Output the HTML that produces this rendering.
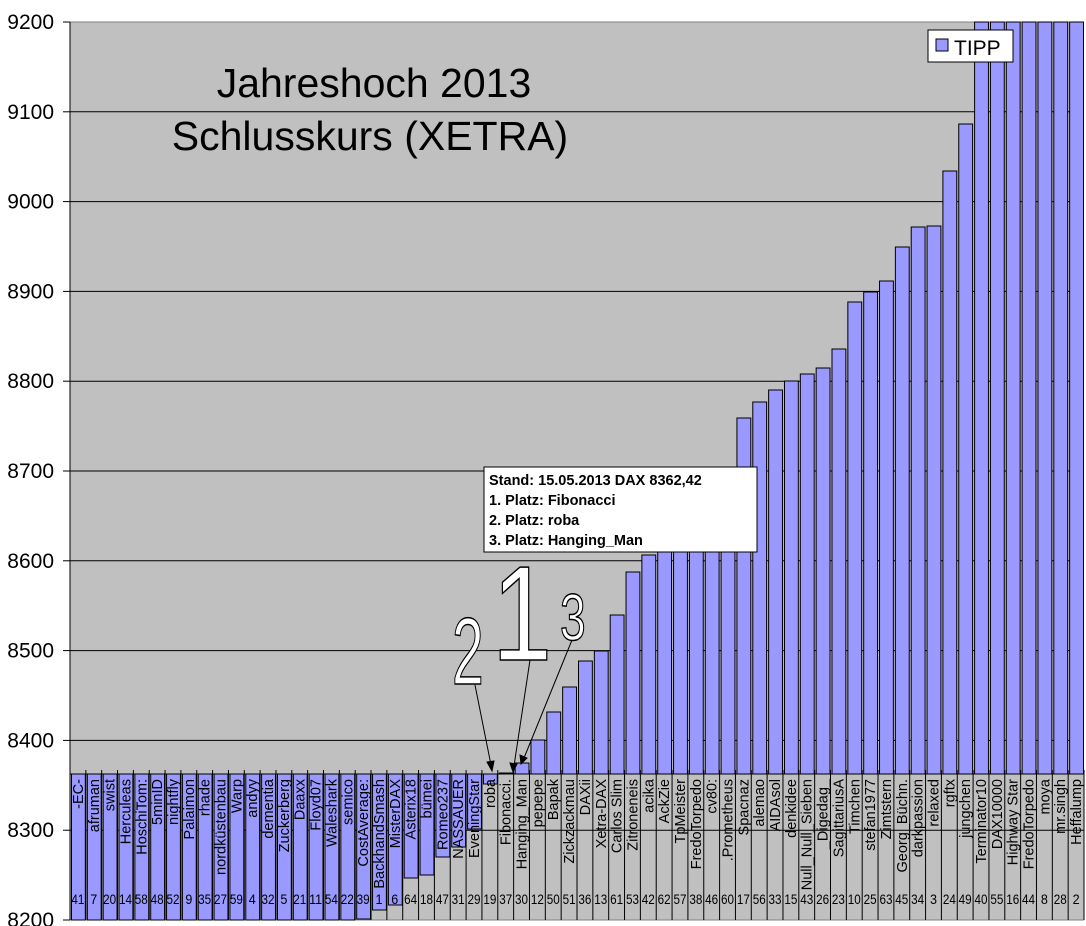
<!DOCTYPE html>
<html><head><meta charset="utf-8"><style>
html,body{margin:0;padding:0;background:#fff;}
svg{display:block;font-family:"Liberation Sans",Arial,sans-serif;}
</style></head><body>
<svg id="c" width="1086" height="926" viewBox="0 0 1086 926" xmlns="http://www.w3.org/2000/svg">
<rect x="70" y="22" width="1014" height="898" fill="#c0c0c0"/>
<g id="grid" stroke="#000" stroke-width="1"></g>
<g id="bars"></g>
<g id="band"></g>
<g id="ylab" font-size="21" text-anchor="end" fill="#000"></g>
<text x="374" y="97" font-size="41" text-anchor="middle">Jahreshoch 2013</text>
<text x="370" y="150" font-size="41" text-anchor="middle">Schlusskurs (XETRA)</text>
<rect x="928" y="30" width="85" height="32" fill="#fff" stroke="#000"/>
<rect x="936" y="39" width="12" height="12" fill="#9999ff" stroke="#000"/>
<text x="954" y="55" font-size="21">TIPP</text>
<g stroke="#000" stroke-width="1" fill="#000">
<line x1="475" y1="685" x2="491" y2="765"/><polygon points="492,771 487,762 494,761"/>
<line x1="530" y1="660" x2="514" y2="766"/><polygon points="513,772 510,763 517,764"/>
<line x1="572" y1="640" x2="524" y2="758"/><polygon points="521,764 520,755 527,758"/>
</g>
<g fill="#fff" stroke="#000" stroke-width="1.5">
<text x="0" y="0" font-size="135" transform="translate(492,660) scale(0.8,1)">1</text>
<text x="0" y="0" font-size="95" transform="translate(452,684) scale(0.6,1)">2</text>
<text x="0" y="0" font-size="66" transform="translate(560,640) scale(0.7,1)">3</text>
</g>
<rect x="484" y="467" width="273" height="85" fill="#fff" stroke="#000"/>
<g font-size="14.5" font-weight="bold" fill="#000">
<text x="489" y="485">Stand: 15.05.2013 DAX 8362,42</text>
<text x="489" y="505">1. Platz: Fibonacci</text>
<text x="489" y="525">2. Platz:  roba</text>
<text x="489" y="545">3. Platz: Hanging_Man</text>
</g>
</svg>
<script>
var N=[["-EC-",41,920],["afruman",7,920],["swist",20,920],["Herculeas",14,920],["HoschiTom:",58,920],["5minID",48,920],["nightfly",52,920],["Palaimon",9,920],["rhade",35,920],["nordküstenbau",27,920],["Warp",59,920],["andyy",4,920],["dementia",32,920],["Zuckerberg",5,920],["Daaxx",21,920],["Floyd07",11,920],["Waleshark",54,920],["semico",22,920],["CostAverage:",39,919],["BackhandSmash",1,910],["MisterDAX",6,905],["Asterix18",64,878],["bümei",18,875],["Romeo237",47,857],["NASSAUER",31,847],["EveningStar",29,829],["roba",19,784],["Fibonacci.",37,773],["Hanging_Man",30,763],["pepepe",12,740],["Bapak",50,712],["Zickzackmau",51,687],["DAXii",36,661],["Xetra-DAX",13,651],["Carlos Slim",61,615],["Zitroneneis",53,572],["acika",42,555],["AckZie",62,550],["TpMeister",57,540],["FredoTorpedo",38,520],["cv80:",46,500],[".Prometheus",60,480],["Spacnaz",17,418],["alemao",56,402],["AIDAsol",33,390],["denkidee",15,381],["Null_Null_Sieben",43,374],["_Digedag_",26,368],["SagittariusA",23,349],["Timchen",10,302],["stefan1977",25,292],["Zimtstern",63,281],["Georg_Büchn.",45,247],["darkpassion",34,227],["relaxed",3,226],["rgftx",24,171],["jungchen",49,124],["Terminator10",40,22],["DAX10000",55,22],["Highway Star",16,22],["FredoTorpedo",44,22],["moya",8,22],["mr.singh",28,22],["Heffalump",2,22]];
var ns="http://www.w3.org/2000/svg";
function el(p,t,a,txt){var e=document.createElementNS(ns,t);for(var k in a)e.setAttribute(k,a[k]);if(txt!=null)e.textContent=txt;document.getElementById(p).appendChild(e);return e;}
var base=774,w=1014/64;
for(var v=8200;v<=9200;v+=100){var y=920-(v-8200)*0.898;
 if(v>8200&&v<9200)el("grid","line",{x1:70,x2:1084,y1:y,y2:y});
 el("grid","line",{x1:63,x2:70,y1:y,y2:y});
 el("ylab","text",{x:54,y:y+7},String(v));}
el("grid","line",{x1:70,x2:1084,y1:22,y2:22,stroke:"#808080"});
el("grid","line",{x1:70,x2:70,y1:22,y2:920});
el("grid","line",{x1:70,x2:1084,y1:920,y2:920,stroke:"#808080"});
N.forEach(function(d,i){var x=70+i*w;var t=d[2];
 var y0=Math.min(t,base),h=Math.abs(t-base);
 el("bars","rect",{x:x+1.5,y:y0,width:w-2,height:Math.max(h,1),fill:"#9999ff",stroke:"#000","stroke-width":1});
});
el("band","line",{x1:70,x2:1084,y1:base,y2:base,stroke:"#000"});
for(var i=0;i<=64;i++){var x=70+i*w;el("band","line",{x1:x,x2:x,y1:base-4,y2:920,stroke:"#000"});}
N.forEach(function(d,i){var cx=70+i*w+w/2+5;
 el("band","text",{x:0,y:0,"font-size":14.5,"text-anchor":"end",transform:"translate("+cx+",779) rotate(-90)"},d[0]);
 el("band","text",{x:70+i*w+w/2,y:904,"font-size":14,"text-anchor":"middle",textLength:(String(d[1]).length>1?13:7),lengthAdjust:"spacingAndGlyphs"},String(d[1]));
});
</script>
</body></html>
